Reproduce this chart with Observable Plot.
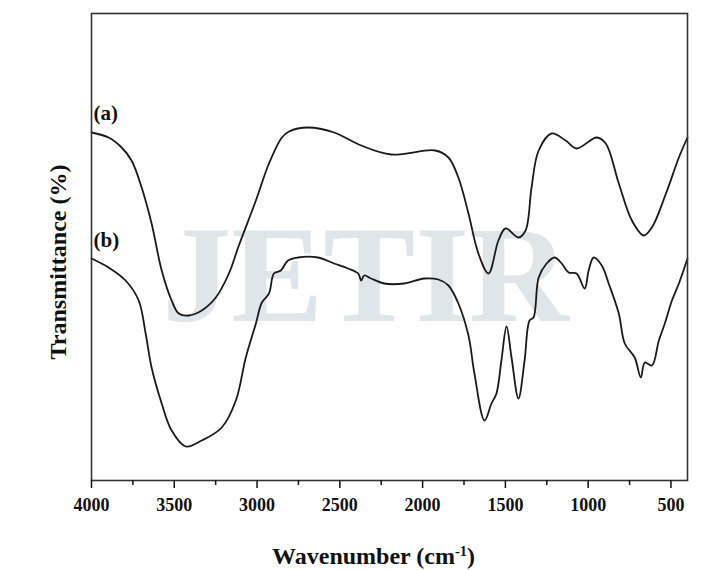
<!DOCTYPE html>
<html><head><meta charset="utf-8">
<script src="https://cdn.jsdelivr.net/npm/d3@7"></script>
<script src="https://cdn.jsdelivr.net/npm/@observablehq/plot@0.6"></script>
<style>body{margin:0;background:#fff}</style>
</head><body><div id="chart"></div>
<script>
// Spectrum (a)
const aWave = [4000,3897,3818,3758,3697,3637,3576,3516,3473,3413,3334,3249,3170,3110,3007,2928,2850,2807,2692,2535,2371,2190,1923,1844,1784,1723,1663,1602,1542,1499,1421,1378,1342,1299,1221,1136,1070,949,894,815,736,664,615,530,452,400];
const aT = [348,343,333,320,293,257,210,180,167,165,170,183,207,235,280,317,343,349,353,348,335,326,330,323,303,267,227,207,240,252,243,250,293,330,347,340,332,343,337,297,260,245,253,287,323,343];
// Spectrum (b)
const bWave = [4000,3897,3794,3715,3673,3637,3576,3516,3431,3334,3213,3128,3068,3007,2971,2928,2898,2856,2813,2753,2632,2535,2450,2389,2371,2353,2311,2232,2111,1990,1905,1844,1784,1723,1687,1626,1584,1554,1524,1493,1463,1421,1384,1354,1330,1299,1251,1203,1160,1118,1070,1021,997,967,918,876,815,779,719,682,658,615,573,537,494,452,400];
const bT = [222,213,200,180,147,113,77,50,34,40,53,80,123,157,178,187,207,210,220,223,223,217,212,207,200,205,202,197,197,202,201,195,177,145,107,60,77,87,120,154,123,82,120,160,163,203,217,223,217,208,207,192,210,223,215,197,167,137,123,103,118,115,140,157,180,197,222];

const xMajor = [4000,3500,3000,2500,2000,1500,1000,500];
const xMinor = [3750,3250,2750,2250,1750,1250,750];
const seriesLabels = ["(a)", "(b)"];
const xTitle = "Wavenumber (cm-1)";
const yTitle = "Transmittance (%)";
const watermark = "JETIR";

const A = aWave.map((w, i) => ({w, t: aT[i]}));
const B = bWave.map((w, i) => ({w, t: bT[i]}));

const chart = Plot.plot({
  width: 717, height: 570,
  marginLeft: 91, marginRight: 30, marginTop: 13, marginBottom: 90,
  style: {fontFamily: "'Liberation Serif', 'Times New Roman', serif", fontWeight: "bold", color: "#111", background: "#fff"},
  x: {domain: [4000, 400]},
  y: {domain: [0, 467], axis: null},
  marks: [
    Plot.text([watermark], {frameAnchor: "top-left", dx: 274, dy: 307, textAnchor: "middle", lineAnchor: "bottom", fontSize: 138, fontWeight: "bold", fill: "#dfe6e9"}),
    Plot.line(A, {x: "w", y: "t", stroke: "#1a1a1a", strokeWidth: 1.8, curve: "catmull-rom"}),
    Plot.line(B, {x: "w", y: "t", stroke: "#1a1a1a", strokeWidth: 1.8, curve: "catmull-rom"}),
    Plot.frame({stroke: "#333", strokeWidth: 1.6}),
    Plot.axisX(xMajor, {tickSize: 8, tickPadding: 10, strokeWidth: 1.5, fontSize: 18, fontWeight: "bold", tickFormat: d => String(d), label: null}),
    Plot.axisX(xMinor, {tickSize: 5, strokeWidth: 1.5, tickFormat: () => "", label: null}),
    Plot.text([seriesLabels[0]], {frameAnchor: "top-left", dx: 2, dy: 100, textAnchor: "start", lineAnchor: "middle", fontSize: 21}),
    Plot.text([seriesLabels[1]], {frameAnchor: "top-left", dx: 2, dy: 227, textAnchor: "start", lineAnchor: "middle", fontSize: 21}),
    Plot.text([xTitle], {frameAnchor: "bottom", dx: -16, dy: 83, textAnchor: "middle", lineAnchor: "bottom", fontSize: 24}),
    Plot.text([yTitle], {frameAnchor: "left", dx: -26, dy: 15, rotate: -90, textAnchor: "middle", lineAnchor: "bottom", fontSize: 24})
  ]
});
document.getElementById("chart").appendChild(chart);

// superscript for cm-1
d3.select(chart).selectAll("text").filter(function(){ return this.textContent === xTitle; }).each(function(){
  const t = d3.select(this);
  t.text("");
  t.append("tspan").text("Wavenumber (cm");
  t.append("tspan").attr("dy", "-0.5em").attr("font-size", "0.6em").text("-1");
  t.append("tspan").attr("dy", "0.3em").text(")");
});
</script>
</body></html>
